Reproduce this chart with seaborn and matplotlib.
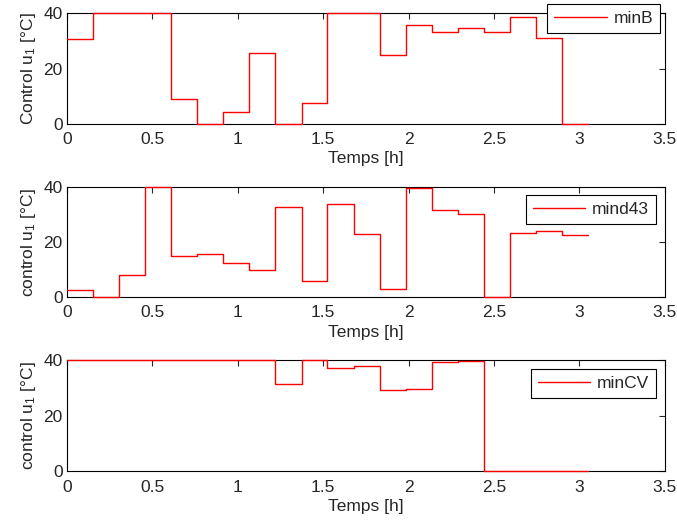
import numpy as np
import pandas as pd
import matplotlib
matplotlib.use('Agg')
import matplotlib.pyplot as plt
import seaborn as sns

# time grid (h), 20 control intervals, last point repeated for the stairs
temps = [0, 0.153, 0.305, 0.458, 0.61, 0.763, 0.915, 1.068, 1.22, 1.373, 1.525,
         1.678, 1.83, 1.983, 2.135, 2.288, 2.44, 2.593, 2.745, 2.898, 3.05]

minB = [30.7, 40, 40, 40, 8.9, 0, 4.2, 25.6, 0, 7.5, 40,
        40, 25.0, 35.6, 33.0, 34.5, 33.1, 38.6, 30.9, 0]
mind43 = [2.5, 0, 7.9, 40, 15.0, 15.6, 12.4, 9.9, 32.7, 5.9, 34.0,
          22.8, 3.1, 39.6, 31.7, 30.3, 0, 23.4, 24.0, 22.5]
minCV = [40, 40, 40, 40, 40, 40, 40, 40, 31.3, 40, 37.2,
         37.9, 29.2, 29.5, 39.5, 39.9, 0, 0, 0, 0]

series = [('minB', minB, 'Control u$_1$ [°C]'),
          ('mind43', mind43, 'control u$_1$ [°C]'),
          ('minCV', minCV, 'control u$_1$ [°C]')]
# legend anchors (axes coords) for each panel
anchors = [(0.992, 1.081), (0.985, 0.93), (0.985, 0.921)]

sns.set_style('white')
plt.rcParams['font.family'] = ['Liberation Sans', 'DejaVu Sans']
plt.rcParams['font.size'] = 12.5
plt.rcParams['mathtext.fontset'] = 'custom'
plt.rcParams['mathtext.rm'] = 'Liberation Sans'
plt.rcParams['mathtext.it'] = 'Liberation Sans'

fig = plt.figure(figsize=(6.77, 5.23), dpi=100)
boxes = [[0.099, 0.763, 0.883, 0.212],
         [0.099, 0.432, 0.883, 0.210],
         [0.099, 0.099, 0.883, 0.212]]

for (name, vals, ylab), box, anc in zip(series, boxes, anchors):
    ax = fig.add_axes(box)
    df = pd.DataFrame({'t': temps, 'u': vals + [vals[-1]]})
    sns.lineplot(data=df, x='t', y='u', ax=ax, color='red', linewidth=1,
                 drawstyle='steps-post', label=name, zorder=3, clip_on=False)
    ax.set_xlim(0, 3.5)
    ax.set_ylim(0, 40)
    ax.set_xticks([0, 0.5, 1, 1.5, 2, 2.5, 3, 3.5])
    ax.set_xticklabels(['0', '0.5', '1', '1.5', '2', '2.5', '3', '3.5'])
    ax.set_yticks([0, 20, 40])
    ax.tick_params(direction='in', top=True, right=True, length=4,
                   width=0.8, labelsize=12.5)
    ax.tick_params(axis='x', pad=6)
    ax.tick_params(axis='y', pad=3)
    for sp in ax.spines.values():
        sp.set_color('black')
        sp.set_linewidth(0.8)
    ax.set_xlabel('Temps [h]', fontsize=12.5, labelpad=3)
    ax.set_ylabel(ylab, fontsize=12.5, labelpad=4)
    leg = ax.legend(loc='upper right', bbox_to_anchor=anc, fancybox=False,
                    framealpha=1, edgecolor='black', handlelength=3.0,
                    handletextpad=0.4, borderpad=0.4, borderaxespad=0,
                    fontsize=12.5)
    leg.get_frame().set_linewidth(0.8)
    leg.set_zorder(5)

fig.savefig('out.png', dpi=100)
